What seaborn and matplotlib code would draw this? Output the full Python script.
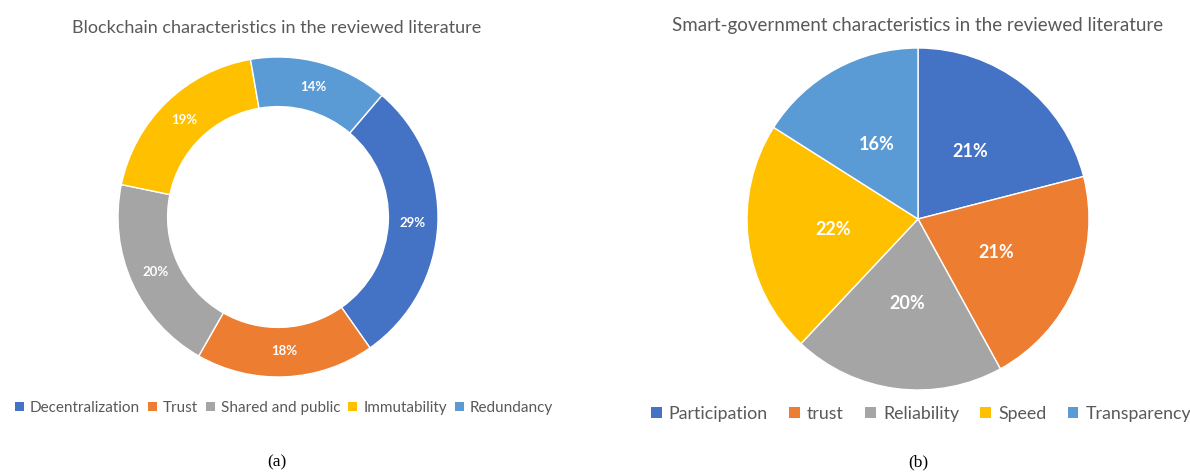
import matplotlib
matplotlib.use("Agg")
import matplotlib.pyplot as plt
from matplotlib.patches import Patch
import seaborn as sns

# Data
bc_labels = ["Decentralization", "Trust", "Shared and public", "Immutability", "Redundancy"]
bc_values = [29, 18, 20, 19, 14]
sg_labels = ["Participation", "trust", "Reliability", "Speed", "Transparency"]
sg_values = [21, 21, 20, 22, 16]
title_a = "Blockchain characteristics in the reviewed literature"
title_b = "Smart-government characteristics in the reviewed literature"

sns.set_theme(style="white")
plt.rcParams['font.family'] = ['Lato', 'DejaVu Sans']

colors = sns.color_palette(["#4472C4", "#ED7D31", "#A5A5A5", "#FFC000", "#5B9BD5"])
text_gray = "#595959"

fig = plt.figure(figsize=(11.9, 4.74), dpi=100)
W, H = 1190, 474

def ax_px(x0, y0, x1, y1):
    return fig.add_axes([x0 / W, (H - y1) / H, (x1 - x0) / W, (y1 - y0) / H])

# Left donut
ax1 = ax_px(118, 57, 438, 377)
wedges1, _, autot1 = ax1.pie(bc_values, colors=colors, startangle=49.5, counterclock=False,
                             autopct=lambda p: f"{p:.0f}%", pctdistance=0.84,
                             wedgeprops=dict(width=0.31, edgecolor="white", linewidth=1),
                             textprops=dict(color="white", fontsize=9.5, fontweight="bold"))
ax1.set_xlim(-1, 1); ax1.set_ylim(-1, 1)
ax1.set_aspect("equal"); ax1.axis("off")

# Right pie
ax2 = ax_px(747, 48, 1089, 390)
wedges2, _, autot2 = ax2.pie(sg_values, colors=colors, startangle=90, counterclock=False,
                             autopct=lambda p: f"{p:.0f}%", pctdistance=0.5,
                             wedgeprops=dict(edgecolor="white", linewidth=1),
                             textprops=dict(color="white", fontsize=13, fontweight="bold"))
ax2.set_xlim(-1, 1); ax2.set_ylim(-1, 1)
ax2.set_aspect("equal"); ax2.axis("off")

# Titles
fig.text(277 / W, 1 - 28 / H, title_a, ha="center", va="center", fontsize=13, color=text_gray)
fig.text(918 / W, 1 - 25 / H, title_b, ha="center", va="center", fontsize=13.5, color=text_gray)

# Legends
h1 = [Patch(facecolor=c, edgecolor="none") for c in colors]
fig.legend(h1, bc_labels, loc="center", bbox_to_anchor=(284 / W, 1 - 408 / H), ncol=5,
           frameon=False, fontsize=11, labelcolor=text_gray, handlelength=0.6, handleheight=0.6,
           handletextpad=0.4, columnspacing=0.5)
fig.legend(h1, sg_labels, loc="center", bbox_to_anchor=(921 / W, 1 - 414 / H), ncol=5,
           frameon=False, fontsize=12.8, labelcolor=text_gray, handlelength=0.6, handleheight=0.6,
           handletextpad=0.4, columnspacing=1.2)

# Captions
fig.text(277 / W, 1 - 462 / H, "(a)", ha="center", va="center", fontsize=12.5,
         family=["Liberation Serif"], color="black")
fig.text(918 / W, 1 - 462 / H, "(b)", ha="center", va="center", fontsize=12.5,
         family=["Liberation Serif"], color="black")

fig.savefig("out.png", dpi=100, facecolor="white")
